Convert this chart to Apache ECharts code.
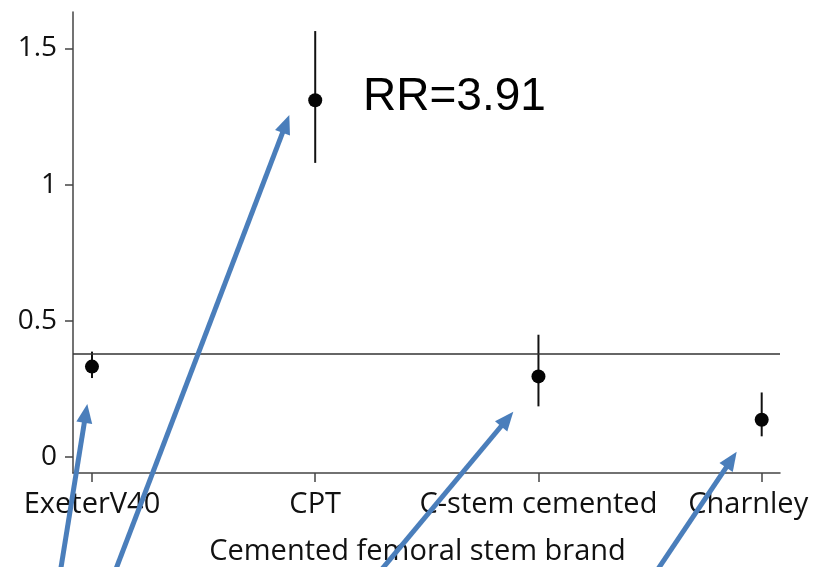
<!DOCTYPE html>
<html>
<head>
<meta charset="utf-8">
<script src="https://cdn.jsdelivr.net/npm/echarts@6/dist/echarts.min.js"></script>
<style>html,body{margin:0;padding:0;background:#fff}#c{width:815px;height:567px}</style>
</head>
<body>
<div id="c"></div>
<script>
const categories = ['ExeterV40', 'CPT', 'C-stem cemented', 'Charnley'];
const estimates = [0.332, 1.310, 0.296, 0.137];
const lowerCI = [0.290, 1.080, 0.186, 0.076];
const upperCI = [0.387, 1.564, 0.449, 0.237];
const referenceLine = 0.384;
const yTicks = [0, 0.5, 1, 1.5];
const xTicks = [0, 1, 2, 3];
const annotationText = 'RR=3.91';
const xAxisTitle = 'Cemented femoral stem brand';

const chart = echarts.init(document.getElementById('c'), null, {renderer: 'canvas'});
const labelFont = '"Open Sans", "DejaVu Sans", sans-serif';
const axisColor = '#444';

const pointData = estimates.map((v, i) => [i, v]);
const errData = estimates.map((v, i) => [i, lowerCI[i], upperCI[i]]);

const blue = '#4a7ebb';
// annotation arrows (pixel positions: [startX, startY, tipX, tipY])
const arrows = [
  [59, 580, 87.3, 404],
  [111, 582, 289.3, 115],
  [372, 581, 513.3, 411.7],
  [650, 581, 736.7, 451.7]
];
function arrowGraphics(a) {
  const [x0, y0, x1, y1] = a;
  const dx = x1 - x0, dy = y1 - y0, L = Math.hypot(dx, dy);
  const ux = dx / L, uy = dy / L, px = -uy, py = ux;
  const hl = 19, hw = 8;
  const bx = x1 - ux * hl, by = y1 - uy * hl;
  return [
    {type: 'line', shape: {x1: x0, y1: y0, x2: bx + ux * 2, y2: by + uy * 2},
      style: {stroke: blue, lineWidth: 5}, z: 100},
    {type: 'polygon', shape: {points: [[x1, y1], [bx + px * hw, by + py * hw], [bx - px * hw, by - py * hw]]},
      style: {fill: blue}, z: 100}
  ];
}

const labelStyle = {fontFamily: labelFont, fontSize: 29, color: '#111'};

chart.setOption({
  animation: false,
  backgroundColor: '#fff',
  grid: {left: 73, right: 35, top: 12, bottom: 94, containLabel: false, outerBoundsMode: 'none'},
  xAxis: {
    type: 'value',
    min: -0.085,
    max: 3.082,
    splitLine: {show: false},
    axisLine: {show: true, onZero: false, lineStyle: {color: axisColor, width: 1.5}},
    axisTick: {show: true, customValues: xTicks, length: 9, lineStyle: {color: axisColor, width: 1.5}},
    axisLabel: {
      customValues: xTicks,
      formatter: v => {
        const i = Math.round(v);
        const name = categories[i] || '';
        return i === categories.length - 1 ? '{last|' + name + '}' : name;
      },
      ...labelStyle,
      margin: 17,
      rich: {last: {...labelStyle, padding: [0, 27, 0, 0]}}
    },
    name: xAxisTitle,
    nameLocation: 'middle',
    nameGap: 64,
    nameTextStyle: {...labelStyle, padding: [0, 18, 0, 0]}
  },
  yAxis: {
    type: 'value',
    min: -0.0587,
    max: 1.634,
    splitLine: {show: false},
    axisLine: {show: true, onZero: false, lineStyle: {color: axisColor, width: 1.5}},
    axisTick: {show: true, customValues: yTicks, length: 8, lineStyle: {color: axisColor, width: 1.5}},
    axisLabel: {
      customValues: yTicks,
      formatter: v => String(v),
      fontFamily: labelFont, fontSize: 28, color: '#111', margin: 16
    }
  },
  series: [
    {
      type: 'custom',
      data: errData,
      renderItem: (params, api) => {
        const p1 = api.coord([api.value(0), api.value(1)]);
        const p2 = api.coord([api.value(0), api.value(2)]);
        return {type: 'line', shape: {x1: p1[0], y1: p1[1], x2: p2[0], y2: p2[1]},
          style: {stroke: '#111', lineWidth: 2}};
      },
      z: 3
    },
    {
      type: 'scatter',
      data: pointData,
      symbol: 'circle',
      symbolSize: 14,
      itemStyle: {color: '#050505', opacity: 1},
      z: 4,
      markLine: {
        silent: true,
        symbol: ['none', 'none'],
        label: {show: false},
        lineStyle: {color: '#333', width: 1.5, type: 'solid', opacity: 1},
        data: [{yAxis: referenceLine}]
      }
    }
  ],
  graphic: [
    {type: 'text', left: 363, top: 74, z: 100,
      style: {text: annotationText, fontFamily: '"Liberation Sans", Arial, sans-serif', fontSize: 46, fill: '#000'}},
    ...arrows.flatMap(arrowGraphics)
  ]
});
</script>
</body>
</html>
